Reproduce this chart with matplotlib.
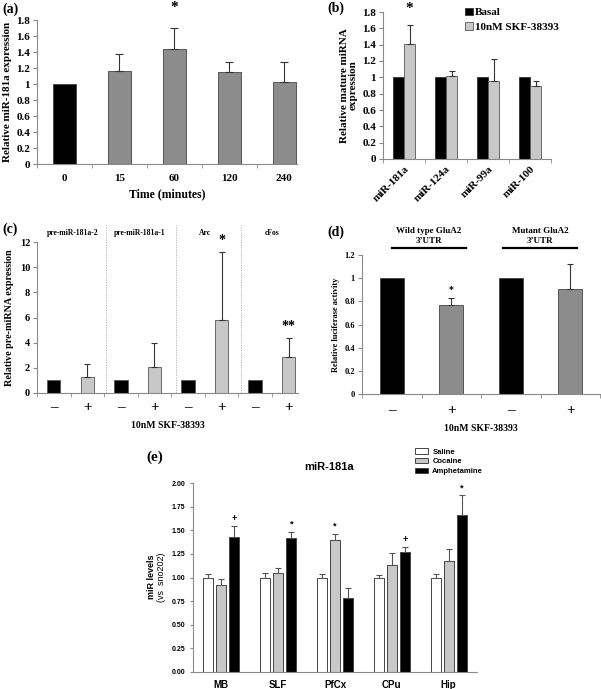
import matplotlib
matplotlib.use("Agg")
import matplotlib.pyplot as plt
from matplotlib.ticker import FuncFormatter, FixedLocator

# ---- data ----
a_labels = ["0", "15", "60", "120", "240"]
a_vals = [1.0, 1.16, 1.44, 1.15, 1.03]
a_err = [0.0, 0.21, 0.26, 0.13, 0.24]

b_labels = ["miR-181a", "miR-124a", "miR-99a", "miR-100"]
b_basal = [1.0, 1.0, 1.0, 1.0]
b_skf = [1.41, 1.02, 0.95, 0.90]
b_skf_err = [0.23, 0.06, 0.27, 0.06]

c_groups = ["pre-miR-181a-2", "pre-miR-181a-1", "Arc", "cFos"]
c_vals = [1.0, 1.25, 1.0, 2.05, 1.0, 5.8, 1.0, 2.9]
c_err = [0.0, 1.05, 0.0, 1.9, 0.0, 5.4, 0.0, 1.45]
c_ticks = ["–", "+", "–", "+", "–", "+", "–", "+"]

d_vals = [1.0, 0.77, 1.0, 0.91]
d_err = [0.0, 0.06, 0.0, 0.21]
d_ticks = ["–", "+", "–", "+"]
d_groups = ["Wild type GluA2\n3’UTR", "Mutant GluA2\n3’UTR"]

e_regions = ["MB", "SLF", "PfCx", "CPu", "Hip"]
e_saline = [1.00, 1.00, 1.00, 1.00, 1.00]
e_saline_err = [0.035, 0.05, 0.035, 0.03, 0.035]
e_cocaine = [0.92, 1.05, 1.40, 1.13, 1.17]
e_cocaine_err = [0.065, 0.05, 0.065, 0.13, 0.135]
e_amph = [1.43, 1.42, 0.78, 1.27, 1.66]
e_amph_err = [0.12, 0.065, 0.11, 0.055, 0.21]
e_marks = [("+", 2, 0), ("*", 2, 1), ("*", 1, 2), ("+", 2, 3), ("*", 2, 4)]

W, H = 601, 689
fig = plt.figure(figsize=(W / 100, H / 100), dpi=100)

SERIF = "Liberation Serif"
SANS = "Liberation Sans"
DARK = "#8c8c8c"
LIGHT = "#c8c8c8"
SPINE = "#8a8a8a"


def px_axes(l, t, r, b):
    return fig.add_axes([l / W, 1 - b / H, (r - l) / W, (b - t) / H])


def fmt_g(v, pos):
    return "%g" % round(v, 2)


def style_serif(ax, n, xmax, ticksize=7.5):
    for s in ["top", "right"]:
        ax.spines[s].set_visible(False)
    for s in ["left", "bottom"]:
        ax.spines[s].set_color(SPINE)
        ax.spines[s].set_linewidth(0.8)
    ax.set_xlim(-0.5, xmax)
    ax.set_xticks(range(n))
    ax.xaxis.set_minor_locator(FixedLocator([i - 0.5 for i in range(n + 1)]))
    ax.tick_params(axis="x", which="major", length=0, pad=6)
    ax.tick_params(axis="x", which="minor", length=3, color=SPINE, direction="out")
    ax.tick_params(axis="y", length=3, color=SPINE, direction="out", pad=2)
    ax.yaxis.set_major_formatter(FuncFormatter(fmt_g))
    for lab in ax.get_xticklabels() + ax.get_yticklabels():
        lab.set_fontfamily(SERIF)
        lab.set_fontweight("bold")
        lab.set_fontsize(ticksize)


def up_err(ax, x, y, e, cap=3):
    ax.errorbar(x, y, yerr=[[0] * len(e), e], fmt="none", ecolor="#333333",
                elinewidth=0.8, capsize=cap, capthick=0.8)


# ---------- (a) ----------
ax = px_axes(37, 20, 297, 164)
xa = list(range(len(a_vals)))
ax.bar(xa, a_vals, width=0.42, color=["black"] + [DARK] * 4,
       edgecolor="#444444", linewidth=0.6)
up_err(ax, xa[1:], a_vals[1:], a_err[1:])
ax.set_ylim(0, 1.8)
ax.set_yticks([0, 0.2, 0.4, 0.6, 0.8, 1, 1.2, 1.4, 1.6, 1.8])
ax.set_xticklabels(a_labels)
style_serif(ax, 5, 4.23, 8)
ax.tick_params(axis="x", which="major", pad=7)
ax.set_ylabel("Relative miR-181a expression", fontfamily=SERIF,
              fontweight="bold", fontsize=8, labelpad=3)
ax.set_xlabel("Time (minutes)", fontfamily=SERIF, fontweight="bold",
              fontsize=8.5, labelpad=4)
ax.text(2, 1.87, "*", ha="center", va="bottom", fontsize=11,
        fontweight="bold", fontfamily=SERIF)
fig.text(2 / W, 1 - 9 / H, "(a)", fontfamily=SERIF, fontweight="bold",
         fontsize=10, va="center")

# ---------- (b) ----------
ax = px_axes(383, 12, 551, 159)
xb = list(range(len(b_labels)))
bw = 0.27
ax.bar([x - bw / 2 for x in xb], b_basal, width=bw, color="black",
       edgecolor="#333333", linewidth=0.6, label="Basal")
ax.bar([x + bw / 2 for x in xb], b_skf, width=bw, color=LIGHT,
       edgecolor="#555555", linewidth=0.6, label="10nM SKF-38393")
up_err(ax, [x + bw / 2 for x in xb], b_skf, b_skf_err, cap=2.5)
ax.set_ylim(0, 1.8)
ax.set_yticks([0, 0.2, 0.4, 0.6, 0.8, 1, 1.2, 1.4, 1.6, 1.8])
ax.set_xticklabels(b_labels)
style_serif(ax, 4, 3.5, 8)
for lab in ax.get_xticklabels():
    lab.set_rotation(45)
    lab.set_ha("right")
    lab.set_rotation_mode("anchor")
ax.tick_params(axis="x", which="major", pad=4)
ax.set_ylabel("Relative mature miRNA\nexpression", fontfamily=SERIF,
              fontweight="bold", fontsize=8, labelpad=3, linespacing=1.0)
ax.text(0 + bw / 2, 1.76, "*", ha="center", va="bottom", fontsize=11,
        fontweight="bold", fontfamily=SERIF)
ax.legend(loc="upper left", bbox_to_anchor=(0.46, 1.06), frameon=False,
          prop={"family": SERIF, "weight": "bold", "size": 8},
          handlelength=0.7, handleheight=0.7, handletextpad=0.2,
          labelspacing=0.4, borderaxespad=0)
fig.text(327 / W, 1 - 8 / H, "(b)", fontfamily=SERIF, fontweight="bold",
         fontsize=10, va="center")

# ---------- (c) ----------
ax = px_axes(37, 242, 298, 393)
xc = list(range(len(c_vals)))
ax.bar(xc, c_vals, width=0.4, color=["black", LIGHT] * 4,
       edgecolor="#555555", linewidth=0.6)
up_err(ax, xc[1::2], c_vals[1::2], c_err[1::2], cap=2.5)
ax.set_ylim(0, 12)
ax.set_yticks(range(0, 13, 2))
ax.set_xticklabels(c_ticks)
style_serif(ax, 8, 7.28, 7.5)
for lab in ax.get_xticklabels():
    lab.set_fontsize(11)
ax.tick_params(axis="x", which="major", pad=6)
for sx in [1.56, 3.65, 5.59]:
    ax.axvline(sx, ymin=0, ymax=1.11, color="#aaaaaa", lw=0.6,
               ls=(0, (1.5, 1.5)), clip_on=False)
for i, g in enumerate(c_groups):
    ax.text(2 * i + 0.5 + (0.05 if i < 2 else 0), 12.75, g, ha="center",
            va="center", fontfamily=SERIF, fontweight="bold", fontsize=5.5)
ax.text(5, 11.6, "*", ha="center", va="bottom", fontsize=10,
        fontweight="bold", fontfamily=SERIF)
ax.text(7, 4.75, "**", ha="center", va="bottom", fontsize=10,
        fontweight="bold", fontfamily=SERIF)
ax.set_ylabel("Relative pre-miRNA expression", fontfamily=SERIF,
              fontweight="bold", fontsize=7.3, labelpad=4)
ax.set_xlabel("10nM SKF-38393", fontfamily=SERIF, fontweight="bold",
              fontsize=7, labelpad=5)
fig.text(2 / W, 1 - 229 / H, "(c)", fontfamily=SERIF, fontweight="bold",
         fontsize=10, va="center")

# ---------- (d) ----------
ax = px_axes(362, 255, 600, 394)
xd = list(range(len(d_vals)))
ax.bar(xd, d_vals, width=0.4, color=["black", DARK] * 2,
       edgecolor="#444444", linewidth=0.6)
up_err(ax, xd[1::2], d_vals[1::2], d_err[1::2], cap=2.5)
ax.set_ylim(0, 1.2)
ax.set_yticks([0, 0.2, 0.4, 0.6, 0.8, 1, 1.2])
ax.set_xticklabels(d_ticks)
style_serif(ax, 4, 3.5, 6)
for lab in ax.get_xticklabels():
    lab.set_fontsize(11)
ax.tick_params(axis="x", which="major", pad=7)
ax.set_ylabel("Relative luciferase activity", fontfamily=SERIF,
              fontweight="bold", fontsize=6, labelpad=3)
ax.set_xlabel("10nM SKF-38393", fontfamily=SERIF, fontweight="bold",
              fontsize=7, labelpad=5)
ax.text(1, 0.86, "*", ha="center", va="bottom", fontsize=7,
        fontweight="bold", fontfamily=SERIF)
for (x0, x1), g in zip([(0.0, 1.25), (1.87, 3.11)], d_groups):
    ax.plot([x0, x1], [1.262, 1.262], color="black", lw=1.6, clip_on=False)
    ax.text((x0 + x1) / 2, 1.29, g, ha="center", va="bottom",
            fontfamily=SERIF, fontweight="bold", fontsize=6.5, linespacing=1.2)
fig.text(327 / W, 1 - 232 / H, "(d)", fontfamily=SERIF, fontweight="bold",
         fontsize=10, va="center")

# ---------- (e) ----------
ax = px_axes(193, 483, 477, 672)
xe = list(range(len(e_regions)))
ew = 0.175
off = 0.23
series = [(e_saline, e_saline_err, "white", "Saline"),
          (e_cocaine, e_cocaine_err, LIGHT, "Cocaine"),
          (e_amph, e_amph_err, "black", "Amphetamine")]
for k, (vals, errs, col, lab) in enumerate(series):
    xs = [x + (k - 1) * off for x in xe]
    ax.bar(xs, vals, width=ew, color=col, edgecolor="#444444",
           linewidth=0.7, label=lab)
    ax.errorbar(xs, vals, yerr=[[0] * len(errs), errs], fmt="none",
                ecolor="#555555", elinewidth=0.8, capsize=2, capthick=0.8)
for sym, k, i in e_marks:
    vals, errs = series[k][0], series[k][1]
    ax.text(i + (k - 1) * off, vals[i] + errs[i] + 0.03, sym, ha="center",
            va="bottom", fontsize=6.5, fontweight="bold", fontfamily=SANS)
for s in ["top", "right"]:
    ax.spines[s].set_visible(False)
for s in ["left", "bottom"]:
    ax.spines[s].set_color(SPINE)
    ax.spines[s].set_linewidth(0.8)
ax.set_xlim(-0.5, 4.5)
ax.set_ylim(0, 2.0)
ax.set_yticks([0, 0.25, 0.5, 0.75, 1.0, 1.25, 1.5, 1.75, 2.0])
ax.yaxis.set_major_formatter(FuncFormatter(lambda v, p: "%.2f" % v))
ax.set_xticks(xe)
ax.set_xticklabels(e_regions)
ax.tick_params(axis="x", length=0, pad=6)
ax.tick_params(axis="y", length=2.5, color=SPINE, pad=3)
for lab in ax.get_yticklabels():
    lab.set_fontfamily(SANS)
    lab.set_fontweight("bold")
    lab.set_fontsize(5)
for lab in ax.get_xticklabels():
    lab.set_fontfamily(SANS)
    lab.set_fontweight("bold")
    lab.set_fontsize(7)
ax.set_title("miR-181a", fontfamily=SANS, fontweight="bold", fontsize=8,
             pad=9, x=0.48)
fig.text(152 / W, 1 - 577 / H, "miR levels", rotation=90, ha="center",
         va="center", fontfamily=SANS, fontweight="bold", fontsize=6.5)
fig.text(161 / W, 1 - 577 / H, "(vs  sno202)", rotation=90, ha="center",
         va="center", fontfamily=SANS, fontsize=6.5)
ax.legend(loc="upper left", bbox_to_anchor=(0.77, 1.2), frameon=False,
          prop={"family": SANS, "weight": "bold", "size": 5.5},
          handlelength=1.7, handleheight=0.7, handletextpad=0.6,
          labelspacing=0.3, borderaxespad=0)
fig.text(146 / W, 1 - 457 / H, "(e)", fontfamily=SERIF, fontweight="bold",
         fontsize=11, va="center")

fig.savefig("out.png", dpi=100)
